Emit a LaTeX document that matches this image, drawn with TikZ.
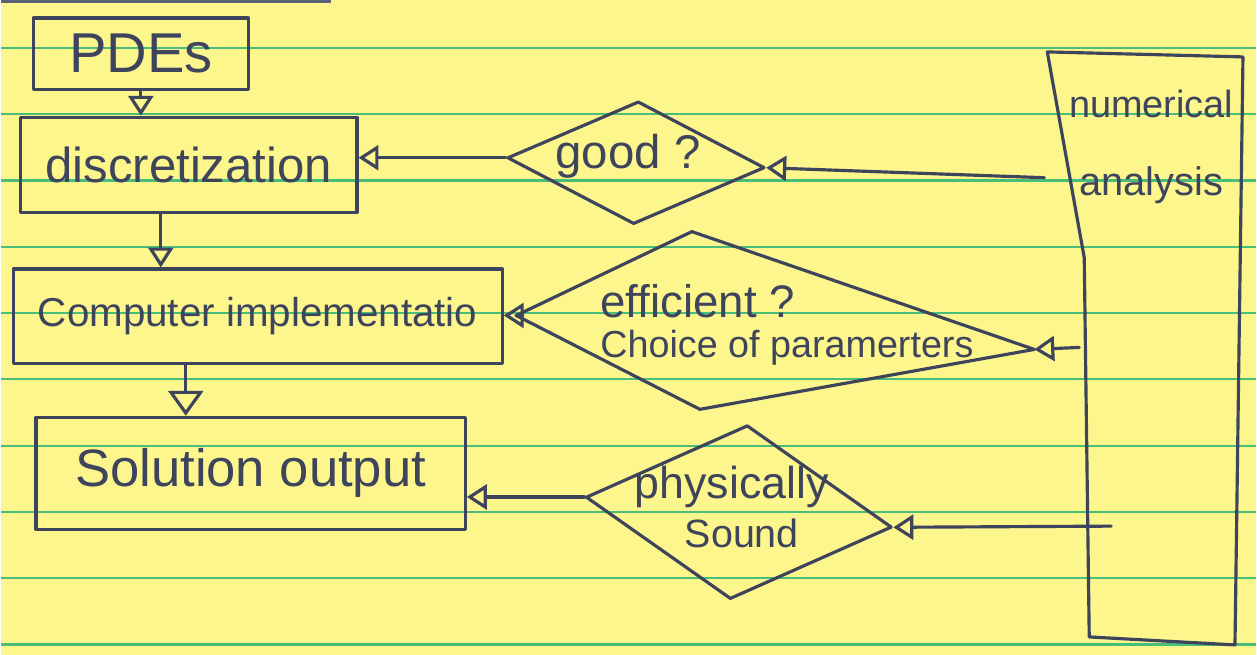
\documentclass[tikz,border=0pt]{standalone}
\usepackage{fontspec}
\setmainfont{Liberation Sans}
\usetikzlibrary{shapes.geometric, arrows.meta}

\definecolor{paper}{RGB}{252,246,140}
\definecolor{rulec}{RGB}{72,190,122}
\definecolor{inkc}{RGB}{62,68,92}

\tikzset{
  ink/.style={draw=inkc, line width=1.8pt, line join=round, line cap=round},
  box/.style={ink, rectangle, inner sep=0pt, text=inkc},
  decide/.style={ink, diamond, inner sep=0pt},
  hand/.style={text=inkc, inner sep=0pt},
  flow/.style={ink, -{Triangle[open, length=0.4cm, width=0.5cm]}},
  flowbig/.style={ink, -{Triangle[open, length=0.5cm, width=0.7cm]}},
}

\begin{document}
\begin{tikzpicture}[x=0.02cm, y=-0.02cm]
    % Papel pautado
    \fill[paper] (0,0) rectangle (1257,656);
    \fill[inkc!85] (0,0) rectangle (330,3);
    \foreach \k in {0,...,9} {
        \draw[rulec, line width=1.2pt] (0,48+66.4*\k) -- (1257,48+66.4*\k);
    }

    % Etapas
    \node[box, minimum width=4.3cm, minimum height=1.44cm, font=\fontsize{32}{36}\selectfont] (pdes) at (140,54) {PDEs};
    \node[box, minimum width=6.74cm, minimum height=1.9cm, font=\fontsize{28}{32}\selectfont] (disc) at (188,165) {discretization};
    \node[box, minimum width=9.8cm, minimum height=1.9cm, font=\fontsize{23}{27}\selectfont] (comp) at (257,317) {Computer implementatio};
    \node[box, minimum width=8.6cm, minimum height=2.24cm, font=\fontsize{30}{34}\selectfont] (sol) at (250,474) {Solution output};

    % Decisoes
    \node[decide, minimum width=5.16cm, minimum height=2.46cm, rotate=-2.2] (good) at (636,163) {};
    \node[hand, font=\fontsize{27}{30}\selectfont] (goodq) at (628,157) {good ?};
    \coordinate (effW) at (516,316);
    \coordinate (effN) at (692,232);
    \coordinate (effE) at (1035,350);
    \coordinate (effS) at (700,410);
    \draw[ink] (effW) -- (effN) -- (effE) -- (effS) -- cycle;
    \node[hand, anchor=west, font=\fontsize{26}{30}\selectfont] (effq) at (600,302) {efficient ?};
    \node[hand, anchor=west, font=\fontsize{21.5}{25}\selectfont] (effchoice) at (600,348) {Choice of paramerters};
    \node[decide, minimum width=6.16cm, minimum height=3.5cm, rotate=-5.6] (phys) at (739,513) {};
    \node[hand, font=\fontsize{25.5}{30}\selectfont] (physq) at (732,488) {physically};
    \node[hand, font=\fontsize{22.5}{26}\selectfont] (physsound) at (742,534) {Sound};

    % Analise numerica
    \draw[ink] (1048,52) -- (1244,57) -- (1236,646) -- (1090,638) -- (1085,258) -- cycle;
    \node[hand, font=\fontsize{21.6}{25}\selectfont] (numer) at (1152,104) {numerical};
    \node[hand, font=\fontsize{22.7}{26}\selectfont] (anal) at (1152,186) {analysis};
    \coordinate (na1) at (1045,178);
    \coordinate (na2) at (1080,348);
    \coordinate (na3) at (1112,527);

    % Setas
    \draw[flow] (pdes.south) -- (pdes.south |- disc.north);
    \draw[flow] ([xshift=-0.56cm]disc.south) -- ([xshift=-0.56cm]disc.south |- comp.north);
    \draw[flowbig] ([xshift=-1.44cm]comp.south) -- ([xshift=-1.44cm]comp.south |- sol.north);
    \draw[flow] (good.west) -- (good.west -| disc.east);
    \draw[flow] (na1) -- (good.east);
    \draw[flow] (effW) -- (effW -| comp.east);
    \draw[flow] (na2) -- (effE);
    \draw[flow] (phys.west) -- (phys.west -| sol.east);
    \draw[flow] (na3) -- (phys.east);
\end{tikzpicture}
\end{document}
